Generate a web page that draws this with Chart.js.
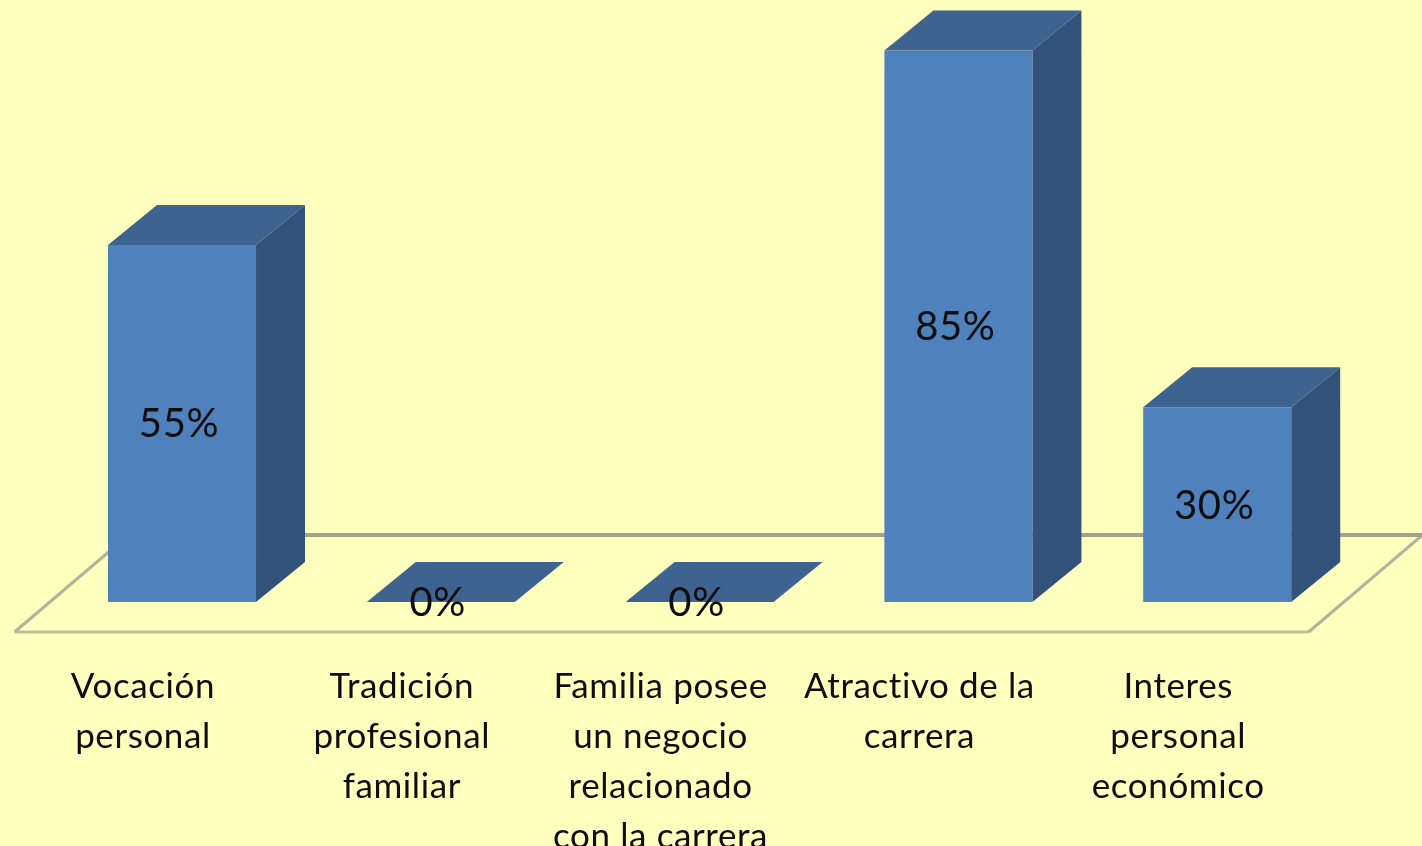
<!DOCTYPE html>
<html lang="es">
<head>
    <meta charset="UTF-8">
    <title>Motivos de elección de carrera</title>
    <script src="https://cdn.jsdelivr.net/npm/chart.js"></script>
    <style>
        html, body { margin: 0; padding: 0; background: #FFFFBE; overflow: hidden; }
        canvas { display: block; }
    </style>
</head>
<body>
    <canvas id="myChart" width="1422" height="846"></canvas>

    <script>
        const categories = [
            ['Vocación', 'personal'],
            ['Tradición', 'profesional', 'familiar'],
            ['Familia posee', 'un negocio', 'relacionado', 'con la carrera'],
            ['Atractivo de la', 'carrera'],
            ['Interes', 'personal', 'económico']
        ];
        const values = [55, 0, 0, 85, 30];
        const valueMax = 90;

        // fake 3D depth of the bars and of the floor
        const depthX = 49, depthY = 40;
        const floorShiftX = 38, floorFrontY = 30, floorDepthX = 114, floorDepthY = 97;

        const fontFamily = 'Lato, "Open Sans", sans-serif';

        function poly(ctx, pts, fill) {
            ctx.beginPath();
            pts.forEach((p, i) => i ? ctx.lineTo(p[0], p[1]) : ctx.moveTo(p[0], p[1]));
            ctx.closePath();
            ctx.fillStyle = fill;
            ctx.fill();
        }

        const depthPlugin = {
            id: 'depthPlugin',
            beforeDraw(chart) {
                // nonzero spacing also turns off the "ti" ligature in Lato
                chart.ctx.letterSpacing = '0.6px';
            },
            beforeDatasetsDraw(chart) {
                const {ctx, chartArea} = chart;
                const y0 = chart.scales.y.getPixelForValue(0);
                const fl = chartArea.left - floorShiftX;
                const fr = chartArea.right - floorShiftX;
                const fy = y0 + floorFrontY;

                ctx.save();
                // floor
                ctx.lineWidth = 3;
                ctx.strokeStyle = '#BFBD9E';
                ctx.beginPath();
                ctx.moveTo(fl, fy);
                ctx.lineTo(fr, fy);
                ctx.stroke();
                ctx.strokeStyle = '#B4B298';
                ctx.beginPath();
                ctx.moveTo(fr, fy);
                ctx.lineTo(fr + floorDepthX, fy - floorDepthY);
                ctx.moveTo(fl + floorDepthX, fy - floorDepthY);
                ctx.lineTo(fl, fy);
                ctx.stroke();
                ctx.strokeStyle = '#A4A28C';
                ctx.lineWidth = 4;
                ctx.beginPath();
                ctx.moveTo(fr + floorDepthX, fy - floorDepthY);
                ctx.lineTo(fl + floorDepthX, fy - floorDepthY);
                ctx.stroke();

                // top and side faces
                chart.getDatasetMeta(0).data.forEach((bar) => {
                    const {x, y, base, width} = bar.getProps(['x', 'y', 'base', 'width'], true);
                    const l = x - width / 2, r = x + width / 2;
                    poly(ctx, [[r, y], [r + depthX, y - depthY], [r + depthX, base - depthY], [r, base]], '#325279');
                    poly(ctx, [[l, y], [r, y], [r + depthX, y - depthY], [l + depthX, y - depthY]], '#3F6391');
                });
                ctx.restore();
            }
        };

        const valueLabelPlugin = {
            id: 'valueLabelPlugin',
            afterDatasetsDraw(chart) {
                const {ctx} = chart;
                ctx.save();
                ctx.font = '40px ' + fontFamily;
                ctx.fillStyle = '#0d0d0d';
                ctx.textAlign = 'center';
                ctx.textBaseline = 'middle';
                chart.getDatasetMeta(0).data.forEach((bar, i) => {
                    const c = bar.getCenterPoint();
                    ctx.fillText(values[i] + '%', c.x - 3, c.y + 1);
                });
                ctx.restore();
            }
        };

        new Chart(document.getElementById('myChart'), {
            type: 'bar',
            data: {
                labels: categories,
                datasets: [{
                    data: values,
                    backgroundColor: '#4F81BD',
                    borderWidth: 0,
                    categoryPercentage: 1,
                    barPercentage: 0.572
                }]
            },
            options: {
                responsive: false,
                animation: false,
                layout: { padding: { left: 52.6, right: 75.4, top: 18, bottom: 0 } },
                plugins: {
                    legend: { display: false },
                    tooltip: { enabled: false }
                },
                scales: {
                    y: { display: false, min: 0, max: valueMax },
                    x: {
                        afterFit(scale) { scale.height = 244; },
                        grid: { display: false },
                        border: { display: false },
                        ticks: {
                            autoSkip: false,
                            maxRotation: 0,
                            padding: 52,
                            labelOffset: -floorShiftX - 1,
                            color: '#0d0d0d',
                            font: { family: fontFamily, size: 35, lineHeight: 50 / 35 }
                        }
                    }
                }
            },
            plugins: [depthPlugin, valueLabelPlugin]
        });
    </script>
</body>
</html>
